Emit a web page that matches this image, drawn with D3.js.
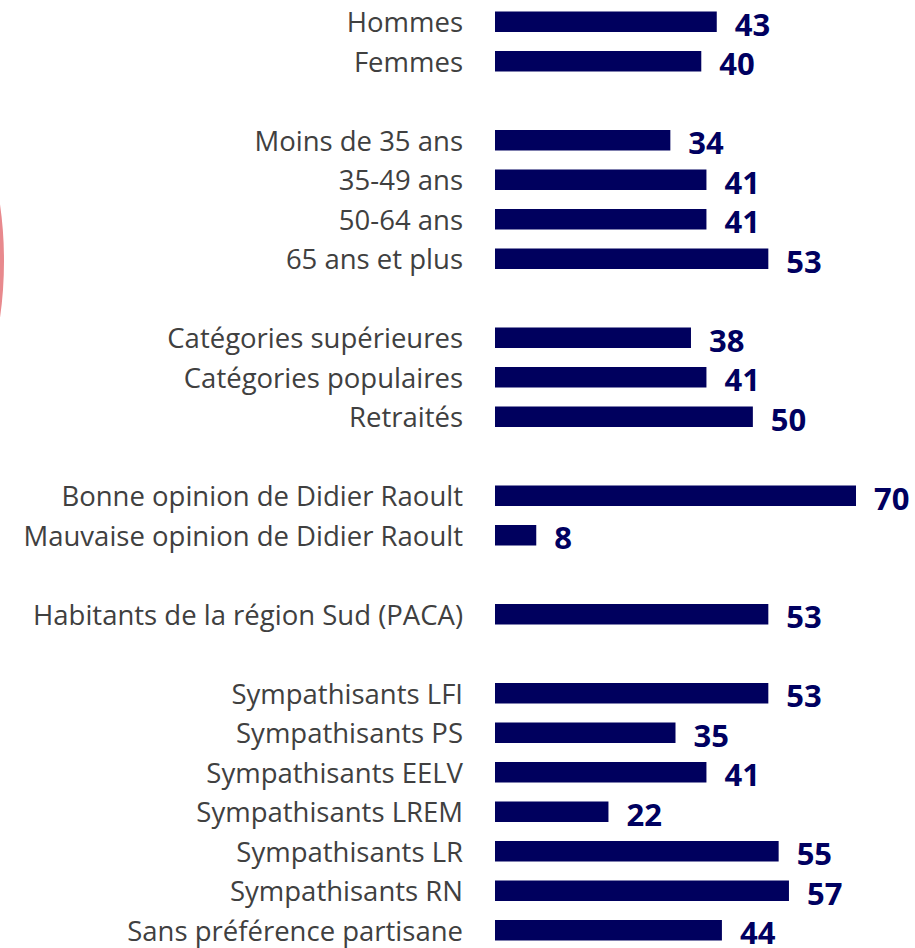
<!DOCTYPE html>
<html lang="fr"><head>
<meta charset="UTF-8"><title>Bonne opinion</title>
<style>
  body { margin:0; background:#fff; }
  svg { display:block; }
  .cat { font-family: 'Open Sans', sans-serif; font-size: 27.5px; fill:#404040; }
  .val { font-family: 'Open Sans', sans-serif; font-size: 31px; font-weight: 700; fill:#000060; }
</style>
</head><body>
<svg id="chart" width="915" height="948"></svg>
<script src="https://cdn.jsdelivr.net/npm/d3@7/dist/d3.min.js"></script>
<script>
// ───── données ─────
const categories = [
  'Hommes', 'Femmes',
  'Moins de 35 ans', '35-49 ans', '50-64 ans', '65 ans et plus',
  'Catégories supérieures', 'Catégories populaires', 'Retraités',
  'Bonne opinion de Didier Raoult', 'Mauvaise opinion de Didier Raoult',
  'Habitants de la région Sud (PACA)',
  'Sympathisants LFI', 'Sympathisants PS', 'Sympathisants EELV', 'Sympathisants LREM',
  'Sympathisants LR', 'Sympathisants RN', 'Sans préférence partisane'
];
const values = [43, 40, 34, 41, 41, 53, 38, 41, 50, 70, 8, 53, 53, 35, 41, 22, 55, 57, 44];
// taille de chaque bloc (un créneau vide entre deux blocs)
const groupSizes = [2, 4, 3, 2, 1, 7];

// créneau de chaque ligne, en sautant une ligne entre blocs
const slots = [];
let s = 0;
groupSizes.forEach((n) => {
  for (let i = 0; i < n; i++) slots.push(s++);
  s++;
});
const rows = categories.map((c, i) => ({ cat: c, v: values[i], slot: slots[i] }));
const nSlots = slots[slots.length - 1] + 1;

const svg = d3.select('#chart');

// petit arc rose coupé au bord gauche
svg.append('ellipse')
  .attr('cx', -100).attr('cy', 261).attr('rx', 102).attr('ry', 204)
  .attr('fill', 'none').attr('stroke', '#e8898d').attr('stroke-width', 4);

const x = d3.scaleLinear().domain([0, 70]).range([495, 856]);
const y = d3.scaleBand().domain(d3.range(nSlots)).range([2, 950]).paddingInner(0.47).paddingOuter(0.235);

const barH = 20.5;

const g = svg.append('g');
const row = g.selectAll('g.row').data(rows).join('g').attr('class', 'row')
  .attr('transform', d => `translate(0,${y(d.slot) + y.bandwidth() / 2})`);

row.append('rect')
  .attr('x', x(0))
  .attr('y', -barH / 2)
  .attr('width', d => x(d.v) - x(0))
  .attr('height', barH)
  .attr('fill', '#00005e');

row.append('text').attr('class', 'cat')
  .attr('x', 463).attr('text-anchor', 'end')
  .attr('dominant-baseline', 'central').attr('dy', 0)
  .text(d => d.cat);

row.append('text').attr('class', 'val')
  .attr('x', d => x(d.v) + 18)
  .attr('dominant-baseline', 'central').attr('dy', 2)
  .text(d => d.v);
</script>
</body></html>
